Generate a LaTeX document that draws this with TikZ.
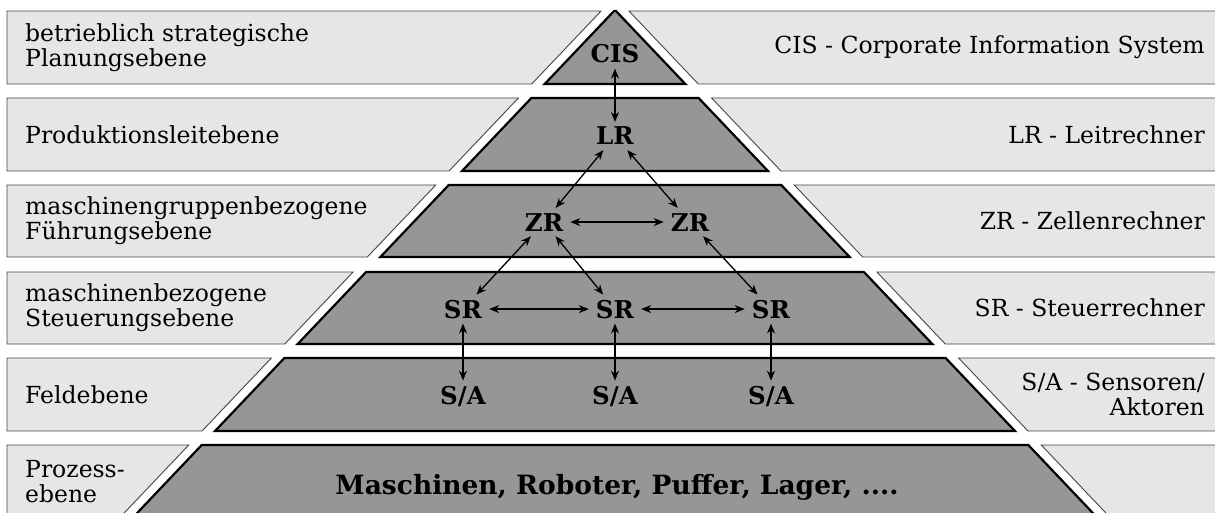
\documentclass[tikz,border=0pt]{standalone}
\usepackage{fontspec}
\setmainfont{DejaVu Serif}
\usetikzlibrary{arrows.meta,positioning}
\definecolor{bandcolor}{RGB}{230,230,230}
\definecolor{pyrcolor}{RGB}{150,150,150}
\definecolor{edgecolor}{RGB}{70,70,70}
\newcommand{\txtsize}{\fontsize{23.5}{25}\selectfont}
\newcommand{\boldsize}{\fontsize{24.5}{26}\selectfont}
\tikzset{
  bandln/.style={draw=edgecolor, line width=0.9pt, fill=bandcolor},
  pyrln/.style={draw=black, line width=2.2pt, fill=pyrcolor},
  rechner/.style={font=\boldsize\bfseries, anchor=base, inner xsep=7pt, inner ysep=5pt},
  dblarrow/.style={<->, >={Stealth[length=10pt,width=8pt]}, line width=1.3pt},
  lefttxt/.style={font=\txtsize, anchor=west, align=left, inner sep=0pt},
  righttxt/.style={font=\txtsize, anchor=east, align=right, inner sep=0pt},
}
% one level: light band left and right, gray slice of the pyramid in between
\newcommand{\ebene}[2]{%
  \pgfmathsetmacro{\hwt}{0.95*(#1-10)}
  \pgfmathsetmacro{\hwb}{0.95*(#2-10)}
  \pgfmathsetmacro{\owt}{\hwt+13}
  \pgfmathsetmacro{\owb}{\hwb+13}
  \draw[bandln] (7,#1) -- (615-\owt,#1) -- (615-\owb,#2) -- (7,#2) -- cycle;
  \draw[bandln] (1230,#1) -- (615+\owt,#1) -- (615+\owb,#2) -- (1230,#2);
  \fill[bandcolor] (1230,#1) rectangle (1240,#2);
  \draw[pyrln] (615-\hwt,#1) -- (615+\hwt,#1) -- (615+\hwb,#2) -- (615-\hwb,#2) -- cycle;
}

\begin{document}
\begin{tikzpicture}[x=1pt, y=-1pt]
  \useasboundingbox (0,0) rectangle (1215,513);
  % levels, top to bottom
  \foreach \t/\b in {11/84, 98/171, 185/257, 272/344, 358/431, 445/518}{
    \ebene{\t}{\b}
  }
  % level names on the left
  \node[lefttxt] (nplan) at (25,47.5) {betrieblich strategische\\Planungsebene};
  \node[lefttxt] (nleit) at (25,134.5) {Produktionsleitebene};
  \node[lefttxt] (nfuehr) at (25,221) {maschinengruppenbezogene\\Führungsebene};
  \node[lefttxt] (nsteuer) at (25,308) {maschinenbezogene\\Steuerungsebene};
  \node[lefttxt] (nfeld) at (25,394.5) {Feldebene};
  \node[lefttxt] (nproz) at (25,481.5) {Prozess-\\ebene};
  % abbreviations on the right
  \node[righttxt] (acis) at (1205,47.5) {CIS - Corporate Information System};
  \node[righttxt] (alr) at (1205,134.5) {LR - Leitrechner};
  \node[righttxt] (azr) at (1205,221) {ZR - Zellenrechner};
  \node[righttxt] (asr) at (1205,308) {SR - Steuerrechner};
  \node[righttxt] (asa) at (1205,394.5) {S/A - Sensoren/\\Aktoren};
  % computers in the pyramid
  \node[rechner] (cis) at (615,63) {CIS};
  \node[rechner] (lr) at (615,145) {LR};
  \node[rechner] (zr1) at (544,231) {ZR};
  \node[rechner] (zr2) at (690,231) {ZR};
  \node[rechner] (sr1) at (463,318) {SR};
  \node[rechner] (sr2) at (615,318) {SR};
  \node[rechner] (sr3) at (771,318) {SR};
  \node[rechner] (sa1) at (463,404) {S/A};
  \node[rechner] (sa2) at (615,404) {S/A};
  \node[rechner] (sa3) at (771,404) {S/A};
  \node[rechner, font=\fontsize{26.5}{28}\selectfont\bfseries] (masch) at (617,494) {Maschinen, Roboter, Puffer, Lager, ....};
  % links
  \draw[dblarrow] (cis) -- (lr);
  \draw[dblarrow] (lr) -- (zr1);
  \draw[dblarrow] (lr) -- (zr2);
  \draw[dblarrow] (zr1) -- (zr2);
  \draw[dblarrow] (zr1) -- (sr1);
  \draw[dblarrow] (zr1) -- (sr2);
  \draw[dblarrow] (zr2) -- (sr3);
  \draw[dblarrow] (sr1) -- (sr2);
  \draw[dblarrow] (sr2) -- (sr3);
  \draw[dblarrow] (sr1) -- (sa1);
  \draw[dblarrow] (sr2) -- (sa2);
  \draw[dblarrow] (sr3) -- (sa3);
\end{tikzpicture}
\end{document}
